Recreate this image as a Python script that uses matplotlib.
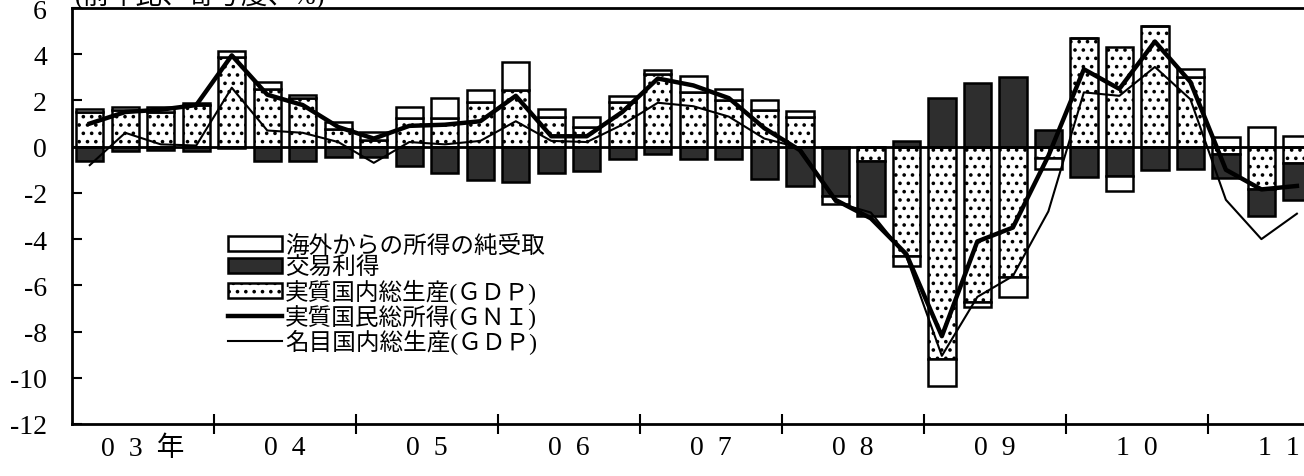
import numpy as np
import matplotlib
matplotlib.use('Agg')
import matplotlib.pyplot as plt
from matplotlib.patches import Patch
from matplotlib.lines import Line2D

plt.rcParams['font.family'] = ['Liberation Serif', 'DejaVu Serif', 'Noto Sans CJK JP']
plt.rcParams['axes.unicode_minus'] = False
plt.rcParams['hatch.linewidth'] = 1.4

# 2003Q1 - 2011Q3 (前年比、寄与度、%)
year_labels = ['0  3  年', '0  4', '0  5', '0  6', '0  7', '0  8', '0  9', '1  0', '1  1']

real_gdp = [1.5, 1.6, 1.5, 1.8, 3.9, 2.5, 2.1, 0.75, 0.3,
            1.25, 1.25, 1.95, 2.45, 1.3, 0.85, 1.95, 3.15, 2.35, 2.0, 1.6,
            1.3, -0.05, -0.6, -4.75, -9.2, -6.7, -5.65, -0.5,
            4.7, 4.3, 5.2, 3.0, -0.3, -1.85, -0.7]
trade_gain = [-0.6, -0.2, -0.15, -0.2, -0.05, -0.6, -0.6, -0.45, -0.45,
              -0.85, -1.15, -1.45, -1.55, -1.15, -1.05, -0.55, -0.3, -0.55, -0.55, -1.4,
              -1.7, -2.1, -2.4, 0.25, 2.1, 2.75, 3.0, 0.7,
              -1.3, -1.25, -1.0, -0.95, -1.05, -1.15, -1.6]
net_income = [0.15, 0.1, 0.2, 0.1, 0.25, 0.3, 0.15, 0.3, 0.35,
              0.45, 0.85, 0.5, 1.2, 0.35, 0.45, 0.25, 0.15, 0.7, 0.5, 0.4,
              0.25, -0.35, 0.0, -0.4, -1.15, -0.25, -0.85, -0.45,
              0.0, -0.65, 0.0, 0.35, 0.4, 0.85, 0.45]
real_gni = [1.0, 1.5, 1.6, 1.8, 3.95, 2.25, 1.8, 0.85, 0.35,
            0.9, 0.95, 1.1, 2.2, 0.45, 0.45, 1.5, 2.95, 2.65, 2.1, 0.8,
            -0.15, -2.3, -3.1, -4.65, -8.2, -4.1, -3.5, -0.4,
            3.35, 2.5, 4.55, 2.8, -1.0, -1.85, -1.7]
nominal_gdp = [-0.8, 0.6, 0.1, 0.05, 2.55, 0.7, 0.6, 0.2, -0.7,
               0.2, 0.1, 0.25, 1.1, 0.25, 0.2, 0.95, 1.9, 1.75, 1.3, 0.35,
               -0.05, -2.4, -2.85, -4.75, -9.05, -6.5, -5.6, -2.8,
               2.35, 2.2, 3.45, 2.05, -2.3, -4.0, -2.9]

x = np.arange(len(real_gdp))

fig = plt.figure(figsize=(13.04, 4.77), dpi=100)
ax = fig.add_axes([72/1304, 52/477, 1 - 72/1304, 416/477])

# 積み上げ棒（正は上へ、負は下へ）
styles = [dict(facecolor='white', hatch='..'),      # 実質GDP
          dict(facecolor='#2e2e2e', hatch=None),    # 交易利得
          dict(facecolor='white', hatch=None)]      # 海外からの所得
pos_bottom = np.zeros(len(x))
neg_bottom = np.zeros(len(x))
for vals, st in zip([real_gdp, trade_gain, net_income], styles):
    v = np.array(vals)
    bottom = np.where(v >= 0, pos_bottom, neg_bottom)
    ax.bar(x, v, bottom=bottom, width=0.77, edgecolor='black', linewidth=1.8,
           zorder=2, **st)
    pos_bottom += np.clip(v, 0, None)
    neg_bottom += np.clip(v, None, 0)

ax.axhline(0, color='black', lw=2, zorder=3)
ax.plot(x, real_gni, color='black', lw=3.2, zorder=4)
ax.plot(x, nominal_gdp, color='black', lw=1.5, zorder=4)

ax.set_xlim(-0.5, 34.2)
ax.set_ylim(-12, 6)
ax.set_yticks(range(-12, 7, 2))
ax.tick_params(axis='y', direction='in', length=7, width=1.5, pad=18, labelsize=20)

ax.set_xticks(np.arange(3.5, 32, 4))
ax.set_xticklabels([])
ax.set_xticks(np.arange(1.5, 34, 4), minor=True)
ax.set_xticklabels(year_labels, minor=True, fontsize=20)
ax.tick_params(axis='x', which='major', direction='inout', length=14, width=1.5)
ax.tick_params(axis='x', which='minor', length=0, pad=8)

for s in ['left', 'top', 'bottom']:
    ax.spines[s].set_linewidth(2)
ax.spines['right'].set_visible(False)

handles = [Patch(facecolor='white', edgecolor='black', lw=1.8),
           Patch(facecolor='#2e2e2e', edgecolor='black', lw=1.8),
           Patch(facecolor='white', edgecolor='black', lw=1.8, hatch='..'),
           Line2D([], [], color='black', lw=3.2),
           Line2D([], [], color='black', lw=1.5)]
labels = ['海外からの所得の純受取', '交易利得', '実質国内総生産(ＧＤＰ)',
          '実質国民総所得(ＧＮＩ)', '名目国内総生産(ＧＤＰ)']
ax.legend(handles, labels, loc='upper left', bbox_to_anchor=(0.127, 0.455),
          frameon=False, fontsize=17, handlelength=2.25, handleheight=0.6,
          handletextpad=0.15, labelspacing=0.0, borderpad=0, borderaxespad=0)

fig.text(75/1304, 1 + 5/477, '(前年比、寄与度、%)', va='center', fontsize=19)

fig.savefig('out.png', dpi=100)
